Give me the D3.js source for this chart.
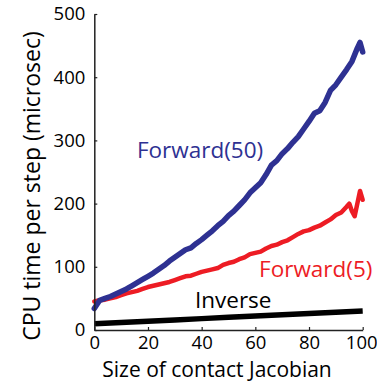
<!DOCTYPE html>
<html>
<head>
<meta charset="utf-8">
<script src="https://cdn.jsdelivr.net/npm/d3@7/dist/d3.min.js"></script>
<style>
  html, body { margin: 0; padding: 0; background: #fff; }
  svg { display: block; }
  text { font-family: "Open Sans", "Noto Sans", sans-serif; }
</style>
</head>
<body>
<svg id="chart" width="377" height="383"></svg>
<script>
// ---- data ----
const xTicks = [0, 20, 40, 60, 80, 100];
const yTicks = [0, 100, 200, 300, 400, 500];

const forward50X = [0,2,4,6,8,10,12,14,16,18,20,22,24,26,28,30,32,34,36,38,40,42,44,46,48,50,52,54,56,58,60,62,64,66,68,70,72,74,76,78,80,82,84,86,88,90,92,94,96,98,99,100];
const forward50Y = [34,47,50,53,57,61,65,70,75,80,85,90,96,102,109,115,121,127,130,137,143,150,157,165,172,181,188,197,206,217,225,233,246,261,268,279,287,297,306,318,330,343,347,360,379,388,400,412,425,446,455,440];

const forward5X = [0,2,4,6,8,10,12,14,16,18,20,22,24,26,28,30,32,34,36,38,40,42,44,46,48,50,52,54,56,58,60,62,64,66,68,70,72,74,76,78,80,82,84,86,88,90,92,94,95,96,97,98,99,100];
const forward5Y = [45,47,48,50,52,55,58,60,62,65,68,70,72,74,76,79,82,85,86,89,92,94,96,98,103,106,108,112,115,120,122,124,129,133,135,139,142,147,152,156,158,162,165,170,175,182,186,195,200,188,180,200,220,206];

const inverseX = [0,10,20,30,40,50,60,70,80,90,100];
const inverseY = [10,12,14,16,18,20,22,24,26,28,30];

const labelNames = ["Forward(50)", "Forward(5)", "Inverse"];
const labelX = [15.9, 61.4, 37.5];
const labelY = [272, 84, 35];

// ---- layout ----
const svg = d3.select("#chart");
const x = d3.scaleLinear().domain([0, 100]).range([94.3, 362.7]);
const y = d3.scaleLinear().domain([0, 500]).range([330, 14]);

const colors = { f50: "#2e3192", f5: "#ed1c24", inv: "#000000" };

const line = d3.line().x(d => x(d[0])).y(d => y(d[1]));

function series(xs, ys) { return xs.map((v, i) => [v, ys[i]]); }

svg.append("path")
  .datum(series(inverseX, inverseY))
  .attr("d", line)
  .attr("fill", "none").attr("stroke", colors.inv)
  .attr("stroke-width", 5.5).attr("stroke-linejoin", "round");

svg.append("path")
  .datum(series(forward5X, forward5Y))
  .attr("d", line)
  .attr("fill", "none").attr("stroke", colors.f5)
  .attr("stroke-width", 4.5).attr("stroke-linejoin", "round").attr("stroke-linecap", "round");

svg.append("path")
  .datum(series(forward50X, forward50Y))
  .attr("d", line)
  .attr("fill", "none").attr("stroke", colors.f50)
  .attr("stroke-width", 5.5).attr("stroke-linejoin", "round").attr("stroke-linecap", "round");

// axes
const xAxis = d3.axisBottom(x).tickValues(xTicks).tickSizeInner(-3).tickSizeOuter(0).tickPadding(6);
const yAxis = d3.axisLeft(y).tickValues(yTicks).tickSizeInner(-3).tickSizeOuter(0).tickPadding(9);

const gx = svg.append("g").attr("transform", `translate(0,${y(0)})`).call(xAxis);
const gy = svg.append("g").attr("transform", `translate(${x(0)},0)`).call(yAxis);

[gx, gy].forEach(g => {
  g.select(".domain").attr("stroke", "#222").attr("stroke-width", 1.5);
  g.selectAll(".tick line").attr("stroke", "#222").attr("stroke-width", 1.2);
  g.selectAll(".tick text").attr("fill", "#000")
    .style("font-family", "'Open Sans', sans-serif").style("font-size", "18.5px");
});
// keep the last x label inside the window
gx.selectAll(".tick text").filter(d => d === 100).attr("dx", "-1.5");

// axis titles
svg.append("text")
  .attr("x", 217).attr("y", 377)
  .attr("text-anchor", "middle")
  .style("font-size", "21px").attr("fill", "#000")
  .text("Size of contact Jacobian");

svg.append("text")
  .attr("transform", `translate(40,186) rotate(-90)`)
  .attr("text-anchor", "middle")
  .style("font-size", "23px").attr("fill", "#000")
  .text("CPU time per step (microsec)");

// series labels
const labelColors = [colors.f50, colors.f5, colors.inv];
labelNames.forEach((name, i) => {
  svg.append("text")
    .attr("x", x(labelX[i])).attr("y", y(labelY[i]))
    .style("font-size", "22.5px").attr("fill", labelColors[i])
    .text(name);
});
</script>
</body>
</html>
